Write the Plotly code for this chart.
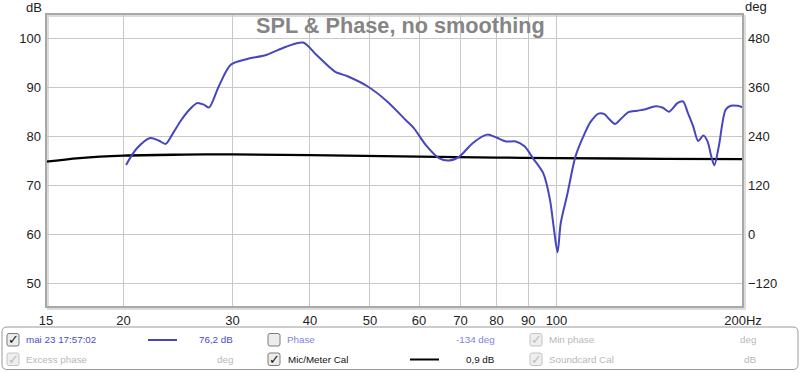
import plotly.graph_objects as go

# ---- data ----
spl_freq = [20.2, 21.0, 22.1, 22.8, 23.4, 24.0, 24.8, 25.6, 26.3, 27.0, 27.5, 28.5, 29.8, 31.6,
            34.0, 36.6, 39.0, 41.0, 43.9, 46.1, 49.6, 53.3, 57.1, 58.9, 61.5, 64.6, 67.1,
            69.7, 73.3, 77.3, 80.0, 82.9, 86.0, 88.8, 91.6, 95.2, 97.6, 99.1, 100.4, 101.6,
            104.2, 107.3, 111.1, 113.5, 116.9, 119.5, 121.6, 124.3, 127.0, 130.7, 135.0, 139.2,
            144.5, 148.5, 151.9, 156.9, 160.0, 163.0, 166.2, 169.3, 172.6, 175.3, 177.8, 179.8,
            182.8, 187.5, 191.1, 196.1, 200.0]
spl_db = [74.2, 77.5, 79.7, 79.2, 78.5, 80.5, 83.4, 85.6, 86.85, 86.5, 85.95, 90.25, 94.7, 95.85,
          96.7, 98.4, 99.25, 96.7, 93.3, 92.3, 90.25, 87.2, 83.4, 81.7, 78.3, 75.6, 75.1,
          75.9, 78.7, 80.4, 79.8, 79.0, 79.0, 78.0, 75.6, 72.5, 67.1, 60.9, 56.3, 62.3,
          68.4, 75.9, 80.7, 83.0, 84.7, 84.6, 83.6, 82.6, 83.6, 85.0, 85.3, 85.6,
          86.2, 85.9, 85.1, 86.9, 87.2, 84.8, 82.1, 79.1, 80.2, 79.0, 75.9, 74.1,
          78.0, 85.5, 86.3, 86.3, 85.95]

cal_freq = [15, 17, 20, 25, 30, 40, 60, 80, 100, 150, 200]
cal_db = [74.85, 75.6, 76.1, 76.3, 76.35, 76.2, 75.9, 75.7, 75.6, 75.45, 75.4]

x_tickvals = [15, 20, 30, 40, 50, 60, 70, 80, 90, 100, 200]
x_ticktext = ["15", "20", "30", "40", "50", "60", "70", "80", "90", "100", "200Hz"]
db_ticks = [50, 60, 70, 80, 90, 100]
deg_ticks = [-120, 0, 120, 240, 360, 480]

BLUE = "#4646bd"
W, H = 800, 372
L, R, T, B = 46, 743, 14, 307

def px(x):
    return (x - L) / (R - L)

def py(y):
    return (B - y) / (B - T)

fig = go.Figure()
fig.add_trace(go.Scatter(x=cal_freq, y=cal_db, mode="lines", line=dict(color="black", width=2.3, shape="spline"),
                         showlegend=False, hoverinfo="skip"))
fig.add_trace(go.Scatter(x=spl_freq, y=spl_db, mode="lines", line=dict(color=BLUE, width=2, shape="spline", smoothing=0.8),
                         showlegend=False, hoverinfo="skip"))
fig.add_trace(go.Scatter(x=[None], y=[None], yaxis="y2", showlegend=False, hoverinfo="skip"))

shapes = []
# 100 Hz darker gridline
shapes.append(dict(type="line", xref="x", yref="paper", x0=100, x1=100, y0=0, y1=1,
                   line=dict(color="#7a7a7a", width=1), layer="below"))
# plot frame with shadow
shapes.append(dict(type="rect", xref="paper", yref="paper", x0=px(L + 2), x1=px(R + 2), y0=py(B + 2), y1=py(T + 2),
                   line=dict(color="#dcdcdc", width=2), layer="below"))
shapes.append(dict(type="rect", xref="paper", yref="paper", x0=0, x1=1, y0=0, y1=1,
                   line=dict(color="#a8a8a8", width=2)))

def rounded(x0, y0, x1, y1, r):
    return (f"M {px(x0 + r)},{py(y0)} L {px(x1 - r)},{py(y0)} Q {px(x1)},{py(y0)} {px(x1)},{py(y0 + r)} "
            f"L {px(x1)},{py(y1 - r)} Q {px(x1)},{py(y1)} {px(x1 - r)},{py(y1)} "
            f"L {px(x0 + r)},{py(y1)} Q {px(x0)},{py(y1)} {px(x0)},{py(y1 - r)} "
            f"L {px(x0)},{py(y0 + r)} Q {px(x0)},{py(y0)} {px(x0 + r)},{py(y0)} Z")

# legend box
shapes.append(dict(type="path", xref="paper", yref="paper", path=rounded(2, 327, 798, 369.5, 5),
                   line=dict(color="#9a9a9a", width=1), fillcolor="white"))

annotations = [
    dict(text="<b>SPL & Phase, no smoothing</b>", x=px(400), y=py(25.5), xref="paper", yref="paper",
         xanchor="center", yanchor="middle", showarrow=False,
         font=dict(family="Liberation Sans, Arial", size=21.7, color="#858585")),
    dict(text="dB", x=px(34), y=py(7), xref="paper", yref="paper", showarrow=False, xanchor="center",
         yanchor="middle", font=dict(family="Liberation Sans, Arial", size=13, color="#222")),
    dict(text="deg", x=px(756), y=py(6), xref="paper", yref="paper", showarrow=False, xanchor="center",
         yanchor="middle", font=dict(family="Liberation Sans, Arial", size=13, color="#222")),
]

def checkbox(xl, yc, checked, enabled=True):
    edge = "#7a7a7a" if enabled else "#c4c4c4"
    fill = "#ececec" if enabled else "#eeeeee"
    shapes.append(dict(type="path", xref="paper", yref="paper", path=rounded(xl, yc - 6.5, xl + 12, yc + 6, 2),
                       line=dict(color=edge, width=1), fillcolor=fill))
    if checked:
        annotations.append(dict(text="<b>✓</b>", x=px(xl + 6), y=py(yc), xref="paper", yref="paper",
                                xanchor="center", yanchor="middle", showarrow=False,
                                font=dict(family="DejaVu Sans", size=13, color="#111" if enabled else "#bdbdbd")))

def label(text, x, y, color, anchor="left"):
    annotations.append(dict(text=text, x=px(x), y=py(y), xref="paper", yref="paper", showarrow=False,
                            xanchor=anchor, yanchor="middle",
                            font=dict(family="Liberation Sans, Arial", size=9.8, color=color)))

r1, r2 = 340, 359.5
checkbox(7, r1, True)
label("mai 23 17:57:02", 24, r1, "#4a4ac8")
shapes.append(dict(type="line", xref="paper", yref="paper", x0=px(148), x1=px(177), y0=py(r1), y1=py(r1),
                   line=dict(color=BLUE, width=2)))
label("76,2 dB", 235, r1, "#4a4ac8", "right")
checkbox(268, r1, False)
label("Phase", 285, r1, "#7f7fe6")
label("-134 deg", 497, r1, "#7f7fe6", "right")
checkbox(530, r1, True, False)
label("Min phase", 547, r1, "#b8b8b8")
label("deg", 758, r1, "#b8b8b8", "right")

checkbox(7, r2, True, False)
label("Excess phase", 24, r2, "#b8b8b8")
label("deg", 235, r2, "#b8b8b8", "right")
checkbox(268, r2, True)
label("Mic/Meter Cal", 286, r2, "#111")
shapes.append(dict(type="line", xref="paper", yref="paper", x0=px(410), x1=px(439), y0=py(r2), y1=py(r2),
                   line=dict(color="black", width=2)))
label("0,9 dB", 497, r2, "#111", "right")
checkbox(530, r2, True, False)
label("Soundcard Cal", 547, r2, "#b8b8b8")
label("dB", 758, r2, "#b8b8b8", "right")

fig.update_layout(
    width=W, height=H,
    margin=dict(l=L, r=W - R, t=T, b=H - B, pad=0),
    paper_bgcolor="white", plot_bgcolor="white",
    font=dict(family="Liberation Sans, Arial", size=13, color="#222"),
    xaxis=dict(type="log", range=[1.1761, 2.30103], tickvals=x_tickvals, ticktext=x_ticktext,
               showgrid=True, gridcolor="#c8c8c8", gridwidth=1, zeroline=False, ticks="", showline=False,
               tickfont=dict(size=13), ticklabelstandoff=4),
    yaxis=dict(range=[45.1, 105.1], tickvals=db_ticks, showgrid=True, gridcolor="#c8c8c8", gridwidth=1,
               zeroline=False, ticks="", showline=False, tickfont=dict(size=13), ticklabelstandoff=4),
    yaxis2=dict(range=[-178.8, 541.2], overlaying="y", side="right", tickvals=deg_ticks, showgrid=False,
                zeroline=False, ticks="", showline=False, tickfont=dict(size=13), ticklabelstandoff=4),
    shapes=shapes, annotations=annotations,
)

fig.write_html("out.html", config={"displayModeBar": False},
               post_script="document.body.style.margin='0';document.body.style.overflow='hidden';")
